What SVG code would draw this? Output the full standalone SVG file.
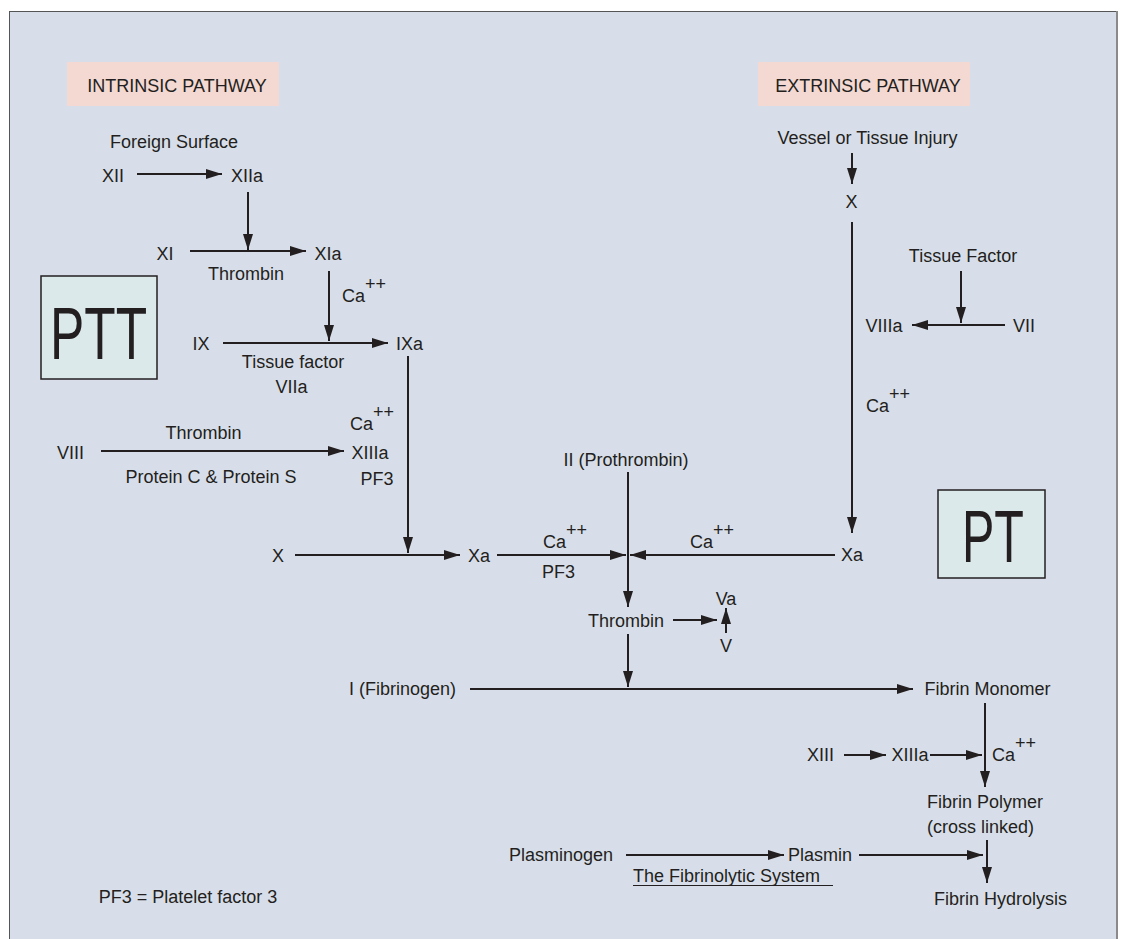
<svg xmlns="http://www.w3.org/2000/svg" width="1124" height="939" viewBox="0 0 1124 939">
<style>
text{font-family:"Liberation Sans",Arial,sans-serif;font-size:18px;fill:#231f20}
.m{text-anchor:middle}
.big{font-size:74px}
.c line{stroke:#231f20;stroke-width:2;fill:none}
.a{marker-end:url(#ah)}
</style>
<defs>
<marker id="ah" markerUnits="userSpaceOnUse" markerWidth="17" markerHeight="11" refX="16" refY="5" orient="auto">
<path d="M0,0 L16,5 L0,10 z" fill="#231f20"/>
</marker>
</defs>
<rect x="0" y="0" width="1124" height="939" fill="#ffffff"/>
<rect id="panel" x="9.5" y="11.5" width="1107" height="940" fill="#d8dee9" stroke="#555" stroke-width="1"/>
<line x1="1117" y1="11" x2="1117" y2="939" stroke="#8a8a8a" stroke-width="2"/>

<g id="intrinsic-title"><rect x="67" y="62" width="212" height="44" fill="#f4d8d2"/><text class="m" x="177" y="92">INTRINSIC PATHWAY</text></g>
<g id="extrinsic-title"><rect x="758" y="62" width="212" height="44" fill="#f4d8d2"/><text class="m" x="868" y="92">EXTRINSIC PATHWAY</text></g>
<g id="ptt"><rect x="41" y="276" width="116" height="103" fill="#dbe9ea" stroke="#231f20" stroke-width="1.5"/><text class="m big" x="98.5" y="359" textLength="97" lengthAdjust="spacingAndGlyphs">PTT</text></g>
<g id="pt"><rect x="938" y="490" width="107" height="88" fill="#dbe9ea" stroke="#231f20" stroke-width="1.5"/><text class="m big" x="993" y="562" textLength="62" lengthAdjust="spacingAndGlyphs">PT</text></g>

<g id="foreign-surface"><text class="m" x="174" y="148">Foreign Surface</text></g>
<g id="xii"><text class="m" x="113" y="182">XII</text></g>
<g id="xiia"><text class="m" x="247" y="182">XIIa</text></g>
<g id="xi"><text class="m" x="165" y="260">XI</text></g>
<g id="xia"><text class="m" x="328" y="260">XIa</text></g>
<g id="thrombin1"><text class="m" x="246" y="280">Thrombin</text></g>
<g id="ca1"><text x="342" y="302">Ca<tspan dy="-12">++</tspan></text></g>
<g id="ix"><text class="m" x="201" y="350">IX</text></g>
<g id="ixa"><text class="m" x="409.5" y="350">IXa</text></g>
<g id="tissue-factor-viia"><text class="m" x="293" y="368">Tissue factor</text><text class="m" x="291.5" y="393">VIIa</text></g>
<g id="ca2"><text x="350" y="430">Ca<tspan dy="-12">++</tspan></text></g>
<g id="thrombin2"><text class="m" x="203.5" y="439">Thrombin</text></g>
<g id="viii"><text class="m" x="70.5" y="459">VIII</text></g>
<g id="xiiia1"><text class="m" x="370" y="459">XIIIa</text></g>
<g id="protein-cs"><text class="m" x="211" y="483">Protein C &amp; Protein S</text></g>
<g id="pf3-1"><text class="m" x="377" y="485">PF3</text></g>
<g id="prothrombin"><text class="m" x="626" y="466">II (Prothrombin)</text></g>
<g id="x-left"><text class="m" x="278" y="562">X</text></g>
<g id="xa-mid"><text class="m" x="479" y="562">Xa</text></g>
<g id="ca3"><text x="543" y="548">Ca<tspan dy="-12">++</tspan></text></g>
<g id="pf3-2"><text class="m" x="558.5" y="578">PF3</text></g>
<g id="ca4"><text x="690" y="548">Ca<tspan dy="-12">++</tspan></text></g>
<g id="xa-right"><text class="m" x="852" y="561">Xa</text></g>
<g id="thrombin3"><text class="m" x="626" y="627">Thrombin</text></g>
<g id="va"><text class="m" x="726" y="605">Va</text></g>
<g id="v"><text class="m" x="726" y="652">V</text></g>
<g id="fibrinogen"><text class="m" x="402.5" y="695">I (Fibrinogen)</text></g>
<g id="fibrin-monomer"><text class="m" x="987.5" y="695">Fibrin Monomer</text></g>
<g id="xiii"><text class="m" x="820.5" y="761">XIII</text></g>
<g id="xiiia2"><text class="m" x="910" y="761">XIIIa</text></g>
<g id="ca5"><text x="992" y="761">Ca<tspan dy="-12">++</tspan></text></g>
<g id="fibrin-polymer"><text class="m" x="985" y="808">Fibrin Polymer</text><text class="m" x="980.5" y="833">(cross linked)</text></g>
<g id="plasminogen"><text class="m" x="561" y="861">Plasminogen</text></g>
<g id="plasmin"><text class="m" x="820" y="861">Plasmin</text></g>
<g id="fibrinolytic"><text x="633" y="882">The Fibrinolytic System</text><line x1="633" y1="885.5" x2="833" y2="885.5" stroke="#231f20" stroke-width="1.2"/></g>
<g id="fibrin-hydrolysis"><text class="m" x="1000.5" y="905">Fibrin Hydrolysis</text></g>
<g id="pf3-legend"><text class="m" x="188" y="903">PF3 = Platelet factor 3</text></g>
<g id="vessel"><text class="m" x="867.5" y="144">Vessel or Tissue Injury</text></g>
<g id="x-ext"><text class="m" x="851.5" y="208">X</text></g>
<g id="tissue-factor-ext"><text class="m" x="963" y="262">Tissue Factor</text></g>
<g id="viiia"><text class="m" x="884" y="332">VIIIa</text></g>
<g id="vii"><text class="m" x="1024" y="332">VII</text></g>
<g id="ca6"><text x="866" y="412">Ca<tspan dy="-12">++</tspan></text></g>

<g id="connectors" class="c">
<line class="a" x1="137" y1="174" x2="222" y2="174"/>
<line class="a" x1="248" y1="192" x2="248" y2="250"/>
<line class="a" x1="190" y1="251" x2="306" y2="251"/>
<line class="a" x1="329" y1="271" x2="329" y2="341"/>
<line class="a" x1="223" y1="343" x2="388" y2="343"/>
<line class="a" x1="408" y1="356" x2="408" y2="553"/>
<line class="a" x1="101" y1="451" x2="344" y2="451"/>
<line class="a" x1="295" y1="555" x2="460" y2="555"/>
<line class="a" x1="497" y1="555" x2="626" y2="555"/>
<line class="a" x1="628" y1="472" x2="628" y2="607"/>
<line class="a" x1="835" y1="555" x2="630" y2="555"/>
<line class="a" x1="852" y1="153" x2="852" y2="184"/>
<line class="a" x1="852" y1="222" x2="852" y2="533"/>
<line class="a" x1="961" y1="271" x2="961" y2="323"/>
<line class="a" x1="1005" y1="325" x2="912" y2="325"/>
<line class="a" x1="673" y1="620" x2="717" y2="620"/>
<line class="a" x1="726" y1="633" x2="726" y2="608"/>
<line class="a" x1="628" y1="634" x2="628" y2="687"/>
<line class="a" x1="470" y1="689" x2="913" y2="689"/>
<line class="a" x1="985" y1="703" x2="985" y2="787"/>
<line class="a" x1="844" y1="755" x2="886" y2="755"/>
<line class="a" x1="930" y1="755" x2="982" y2="755"/>
<line class="a" x1="987" y1="840" x2="987" y2="883"/>
<line class="a" x1="626" y1="855" x2="784" y2="855"/>
<line class="a" x1="859" y1="855" x2="983" y2="855"/>
</g>
</svg>
